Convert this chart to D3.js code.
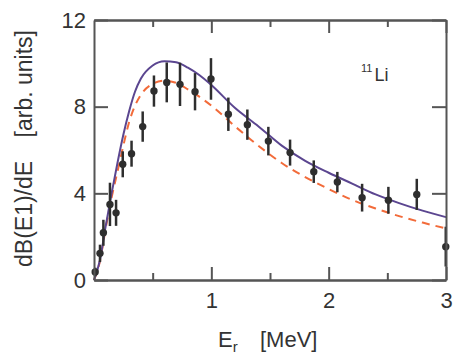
<!DOCTYPE html>
<html>
<head>
<meta charset="utf-8">
<script src="https://cdn.jsdelivr.net/npm/d3@7"></script>
<style>
  body { margin: 0; background: #fff; }
  text { font-family: "Liberation Sans", Arial, sans-serif; fill: #333; }
</style>
</head>
<body>
<script>
// measured points with error bars
var dataE = [0.01, 0.051, 0.08, 0.136, 0.188, 0.245, 0.32, 0.415, 0.511, 0.62, 0.733, 0.861, 0.997, 1.145, 1.307, 1.486, 1.671, 1.873, 2.074, 2.285, 2.509, 2.751, 2.998];
var dataB = [0.37, 1.23, 2.18, 3.49, 3.1, 5.34, 5.83, 7.08, 8.72, 9.12, 9.03, 8.69, 9.28, 7.65, 7.17, 6.41, 5.88, 5.0, 4.52, 3.8, 3.68, 3.95, 1.54];
var dataErr = [0.2, 0.4, 0.6, 1.0, 0.6, 0.6, 0.6, 0.7, 0.72, 0.92, 1.0, 0.86, 0.96, 0.77, 0.7, 0.66, 0.6, 0.52, 0.47, 0.64, 0.62, 0.72, 0.92];

// theory curves
var curveE = [0, 0.05, 0.1, 0.15, 0.2, 0.25, 0.3, 0.35, 0.4, 0.5, 0.6, 0.7, 0.8, 0.9, 1.0, 1.2, 1.4, 1.6, 1.8, 2.0, 2.2, 2.4, 2.6, 2.8, 3.0];
var solidB = [0, 0.9, 2.5, 4.0, 5.4, 6.7, 7.8, 8.7, 9.3, 9.9, 10.1, 10.05, 9.8, 9.45, 9.0, 7.95, 7.1, 6.2, 5.5, 4.95, 4.45, 3.95, 3.55, 3.2, 2.9];
var dashedB = [0, 0.85, 2.4, 3.8, 5.0, 6.2, 7.3, 8.05, 8.55, 9.05, 9.2, 9.1, 8.8, 8.45, 8.05, 7.1, 6.2, 5.4, 4.75, 4.2, 3.7, 3.3, 2.95, 2.65, 2.38];

var xMajor = [1, 2, 3],
    xMinor = [0.5, 1.5, 2.5],
    yMajor = [0, 4, 8, 12];

var width = 462, height = 363;
// plot frame (pixels)
var mLeft = 94, mRight = 446, mTop = 20, mBottom = 280;

var svg = d3.select("body").append("svg")
    .attr("width", width)
    .attr("height", height);

var x = d3.scaleLinear().domain([0, 3]).range([mLeft, mRight]);
var y = d3.scaleLinear().domain([0, 12]).range([mBottom, mTop]);

// curves
var line = d3.line()
    .x(function(d){ return x(d[0]); })
    .y(function(d){ return y(d[1]); })
    .curve(d3.curveMonotoneX);

svg.append("path")
    .datum(curveE.map(function(e, i){ return [e, dashedB[i]]; }))
    .attr("fill", "none")
    .attr("stroke", "#f26b3a")
    .attr("stroke-width", 2)
    .attr("stroke-dasharray", "8,6")
    .attr("d", line);

svg.append("path")
    .datum(curveE.map(function(e, i){ return [e, solidB[i]]; }))
    .attr("fill", "none")
    .attr("stroke", "#5b4690")
    .attr("stroke-width", 2)
    .attr("d", line);

// data points
var pts = dataE.map(function(e, i){ return {e: e, b: dataB[i], err: dataErr[i]}; });

svg.selectAll(".err").data(pts).enter().append("line")
    .attr("class", "err")
    .attr("x1", function(d){ return x(d.e); })
    .attr("x2", function(d){ return x(d.e); })
    .attr("y1", function(d){ return y(Math.max(0, d.b - d.err)); })
    .attr("y2", function(d){ return y(d.b + d.err); })
    .attr("stroke", "#2e2e2e")
    .attr("stroke-width", 2.5);

svg.selectAll(".pt").data(pts).enter().append("circle")
    .attr("class", "pt")
    .attr("cx", function(d){ return x(d.e); })
    .attr("cy", function(d){ return y(d.b); })
    .attr("r", 3.7)
    .attr("fill", "#2e2e2e");

// axes, ticks pointing inward on all sides
function styleAxis(g){
    g.select(".domain").attr("stroke", "#555").attr("stroke-width", 2);
    g.selectAll(".tick line").attr("stroke", "#555").attr("stroke-width", 2);
    g.selectAll(".tick text")
        .attr("fill", "#333")
        .style("font-family", "Liberation Sans, Arial, sans-serif")
        .style("font-size", "22px");
}

svg.append("g")
    .attr("transform", "translate(0," + mBottom + ")")
    .call(d3.axisBottom(x).tickValues(xMajor).tickSizeInner(-13).tickSizeOuter(0).tickPadding(12).tickFormat(d3.format("d")))
    .call(styleAxis);
svg.append("g")
    .attr("transform", "translate(0," + mBottom + ")")
    .call(d3.axisBottom(x).tickValues(xMinor).tickSizeInner(-7).tickSizeOuter(0).tickFormat(""))
    .call(styleAxis);

svg.append("g")
    .attr("transform", "translate(0," + mTop + ")")
    .call(d3.axisTop(x).tickValues(xMajor).tickSizeInner(-13).tickSizeOuter(0).tickFormat(""))
    .call(styleAxis);
svg.append("g")
    .attr("transform", "translate(0," + mTop + ")")
    .call(d3.axisTop(x).tickValues(xMinor).tickSizeInner(-7).tickSizeOuter(0).tickFormat(""))
    .call(styleAxis);

svg.append("g")
    .attr("transform", "translate(" + mLeft + ",0)")
    .call(d3.axisLeft(y).tickValues(yMajor).tickSizeInner(-14).tickSizeOuter(0).tickPadding(8))
    .call(styleAxis);

svg.append("g")
    .attr("transform", "translate(" + mRight + ",0)")
    .call(d3.axisRight(y).tickValues(yMajor).tickSizeInner(-14).tickSizeOuter(0).tickFormat(""))
    .call(styleAxis);

// axis titles
var yTitle = svg.append("g").attr("transform", "translate(32,0) rotate(-90)");
yTitle.append("text")
    .attr("x", -267).attr("y", 0)
    .style("font-size", "23px")
    .text("dB(E1)/dE");
yTitle.append("text")
    .attr("x", -30).attr("y", 0)
    .attr("text-anchor", "end")
    .style("font-size", "23px")
    .text("[arb. units]");

var xTitle = svg.append("text")
    .attr("x", 218).attr("y", 347)
    .style("font-size", "22px");
xTitle.append("tspan").text("E");
xTitle.append("tspan").attr("dy", 5).style("font-size", "15px").text("r");
svg.append("text")
    .attr("x", 260).attr("y", 347)
    .style("font-size", "22px")
    .text("[MeV]");

// nucleus label
var nuc = svg.append("text").attr("x", 361).attr("y", 81);
nuc.append("tspan").attr("dy", -9).style("font-size", "11px").text("11");
nuc.append("tspan").attr("dy", 9).attr("dx", 2).style("font-size", "18px").text("Li");
</script>
</body>
</html>
